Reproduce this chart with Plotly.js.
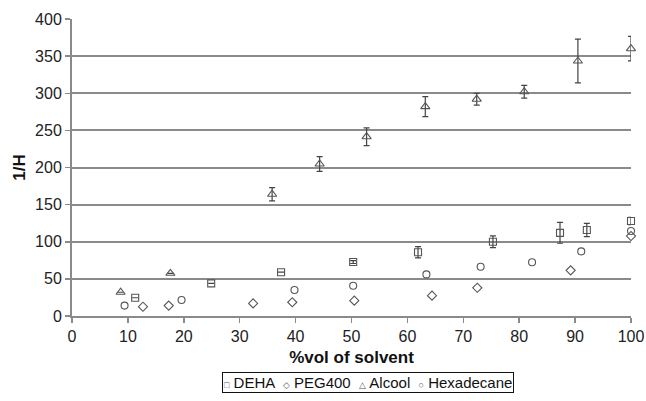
<!DOCTYPE html>
<html>
<head>
<meta charset="utf-8">
<script src="https://cdn.plot.ly/plotly-3.0.1.min.js"></script>
<style>body{margin:0;padding:0;background:#fff;}#chart{width:646px;height:401px;}</style>
</head>
<body>
<div id="chart"></div>
<script>
// Data
const dehaX = [11.3, 24.9, 37.4, 50.3, 61.9, 75.3, 87.3, 92.1, 100];
const dehaY = [24.6, 44, 59, 72.7, 85.8, 100, 112, 115.8, 128];
const dehaErr = [0, 0, 0, 2, 7.5, 8, 14, 9, 5];

const pegX = [12.7, 17.3, 32.4, 39.4, 50.5, 64.4, 72.5, 89.2, 100];
const pegY = [12.5, 14, 17, 18.5, 20.6, 27.4, 38, 61.5, 107.7];

const alcoolX = [8.7, 17.6, 35.8, 44.3, 52.7, 63.2, 72.4, 80.9, 90.5, 100];
const alcoolY = [32, 57.5, 164, 204.7, 241.5, 282, 292, 302, 343.4, 360];
const alcoolErr = [0, 0, 9, 10, 12, 13.5, 8, 8.5, 29.5, 16.5];

const hexX = [9.4, 19.6, 39.8, 50.3, 63.4, 73.1, 82.3, 91.1, 100];
const hexY = [14, 21.5, 35, 40.8, 56, 66.4, 72.3, 87, 114.5];

const seriesNames = ['DEHA', 'PEG400', 'Alcool', 'Hexadecane'];
const legendGlyphs = ['□', '◇', '△', '○'];

const mcol = '#555555';
function mk(sym, s){ return {symbol: sym, size: s, color: mcol, line: {color: mcol, width: 1.1}}; }
function eb(arr){ return {type: 'data', array: arr, visible: true, color: '#444', thickness: 1.2, width: 3}; }

const traces = [
  {name: seriesNames[0], x: dehaX, y: dehaY, mode: 'markers', type: 'scatter', cliponaxis: false, marker: mk('square-open', 7), error_y: eb(dehaErr)},
  {name: seriesNames[1], x: pegX, y: pegY, mode: 'markers', type: 'scatter', cliponaxis: false, marker: mk('diamond-open', 7)},
  {name: seriesNames[2], x: alcoolX, y: alcoolY, mode: 'markers', type: 'scatter', cliponaxis: false, marker: mk('triangle-up-open', 8), error_y: eb(alcoolErr)},
  {name: seriesNames[3], x: hexX, y: hexY, mode: 'markers', type: 'scatter', cliponaxis: false, marker: mk('circle-open', 7)}
];

const legendText = seriesNames.map((n, i) =>
  '<span style="font-size:9px;color:#555">' + legendGlyphs[i] + '</span> ' + n).join('  ');

const layout = {
  width: 646, height: 401,
  margin: {l: 72, r: 15, t: 19, b: 85, autoexpand: false},
  paper_bgcolor: '#fff', plot_bgcolor: '#fff',
  font: {family: 'Liberation Sans, Arial, sans-serif', size: 16, color: '#222'},
  showlegend: false,
  annotations: [{
    xref: 'paper', yref: 'paper', x: 0.53, xanchor: 'center', y: -0.188, yanchor: 'top',
    text: legendText, showarrow: false,
    font: {size: 15, color: '#111'},
    bordercolor: '#111', borderwidth: 1, borderpad: 1, bgcolor: '#fff'
  }],
  xaxis: {
    range: [0, 100], dtick: 10, tick0: 0,
    showgrid: false, zeroline: false,
    showline: true, linecolor: '#8a8a8a', linewidth: 2,
    ticks: 'outside', ticklen: 5, tickcolor: '#8a8a8a', tickwidth: 1.5,
    tickfont: {size: 16, color: '#222'},
    title: {text: '<b>%vol of solvent</b>', font: {size: 17, color: '#111'}, standoff: 7},
    automargin: false, fixedrange: true
  },
  yaxis: {
    range: [0, 400], dtick: 50, tick0: 0,
    showgrid: true, gridcolor: '#8a8a8a', gridwidth: 2,
    zeroline: false,
    showline: true, linecolor: '#8a8a8a', linewidth: 2,
    ticks: 'outside', ticklen: 5, tickcolor: '#8a8a8a', tickwidth: 1.5,
    tickfont: {size: 16, color: '#222'},
    title: {text: '<b>1/H</b>', font: {size: 17, color: '#111'}, standoff: 5},
    automargin: false, fixedrange: true
  }
};

Plotly.newPlot('chart', traces, layout, {displayModeBar: false, staticPlot: true});
</script>
</body>
</html>
